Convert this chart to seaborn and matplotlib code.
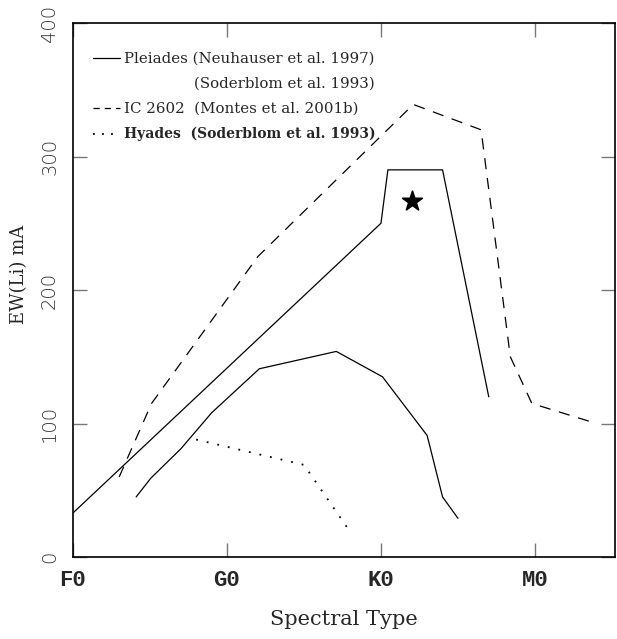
import numpy as np
import pandas as pd
import matplotlib
matplotlib.use("Agg")
import matplotlib.pyplot as plt
import seaborn as sns

# spectral type in subclasses: F0=0, G0=10, K0=20, M0=30
pleiades_upper_x = [0.0, 20.0, 20.45, 24.0, 27.0]
pleiades_upper_y = [33, 250, 290, 290, 120]

pleiades_lower_x = [4.1, 5.05, 7.0, 9.0, 12.1, 17.1, 20.1, 23.0, 24.0, 25.0]
pleiades_lower_y = [45, 59, 81, 108, 141, 154, 135, 91, 45, 29]

ic2602_x = [3.0, 5.1, 12.0, 22.1, 26.5, 28.4, 29.8, 34.0]
ic2602_y = [60, 115, 225, 339, 320, 150, 115, 100]

hyades_x = [8.0, 15.0, 18.05]
hyades_y = [88, 69, 18]

star_x = [22.0]
star_y = [267]

tick_pos = [0, 10, 20, 30]
tick_lab = ["F0", "G0", "K0", "M0"]
ytick_pos = [0, 100, 200, 300, 400]

legend_rows = [
    ("-", "Pleiades (Neuhauser et al. 1997)", "normal", 10.8),
    (None, "(Soderblom et al. 1993)", "normal", 10.8),
    ("--", "IC 2602  (Montes et al. 2001b)", "normal", 10.8),
    (":", "Hyades  (Soderblom et al. 1993)", "bold", 10.0),
]

sns.set_style("white")
plt.rcParams["font.family"] = ["DejaVu Serif"]

fig = plt.figure(figsize=(6.17, 6.39), dpi=100)
ax = fig.add_axes([0.1183, 0.1283, 0.8785, 0.8357])

sns.lineplot(x=pleiades_upper_x, y=pleiades_upper_y, sort=False, color="black", lw=0.9, ax=ax)
sns.lineplot(x=pleiades_lower_x, y=pleiades_lower_y, sort=False, color="black", lw=0.9, ax=ax)
sns.lineplot(x=ic2602_x, y=ic2602_y, sort=False, color="black", lw=0.9, ax=ax)
ax.lines[-1].set_dashes([9, 7])
sns.lineplot(x=hyades_x, y=hyades_y, sort=False, color="black", lw=1.3, ax=ax)
ax.lines[-1].set_dashes([1, 5])
sns.scatterplot(x=star_x, y=star_y, marker="*", s=220, color="black", edgecolor="black", ax=ax)

ax.set_xlim(0, 35.2)
ax.set_ylim(0, 400)
ax.set_xticks(tick_pos)
ax.set_xticklabels(tick_lab, family="Liberation Mono", fontweight="bold", fontsize=16)
ax.set_yticks(ytick_pos)
ax.set_yticklabels([str(v) for v in ytick_pos], rotation=90, va="center",
                   family="DejaVu Sans", fontweight="light", fontsize=14, color="#333333")
ax.tick_params(axis="both", direction="in", length=10, width=1, color="#777777",
               top=True, right=True, bottom=True, left=True)
ax.tick_params(axis="x", pad=9)
ax.tick_params(axis="y", pad=10)
for s in ax.spines.values():
    s.set_color("black")
    s.set_linewidth(1.2)

ax.set_xlabel("Spectral Type", fontsize=15, labelpad=14)
ax.set_ylabel("EW(Li) mA", fontsize=13)
ax.yaxis.set_label_coords(-0.083, 0.53)

# hand-made legend
y0 = 0.934
dy = 0.047
for i, (ls, txt, wt, fs) in enumerate(legend_rows):
    yy = y0 - i * dy
    if ls is not None:
        ln = ax.plot([0.037, 0.087], [yy, yy], transform=ax.transAxes, color="black", lw=0.9)[0]
        if ls == "--":
            ln.set_dashes([5, 4])
        elif ls == ":":
            ln.set_dashes([1, 4])
            ln.set_linewidth(1.3)
    tx = 0.094 if i != 1 else 0.224
    ax.text(tx, yy, txt, transform=ax.transAxes, va="center", ha="left",
            fontsize=fs, fontweight=wt)

fig.savefig("out.png", dpi=100, facecolor="white")
